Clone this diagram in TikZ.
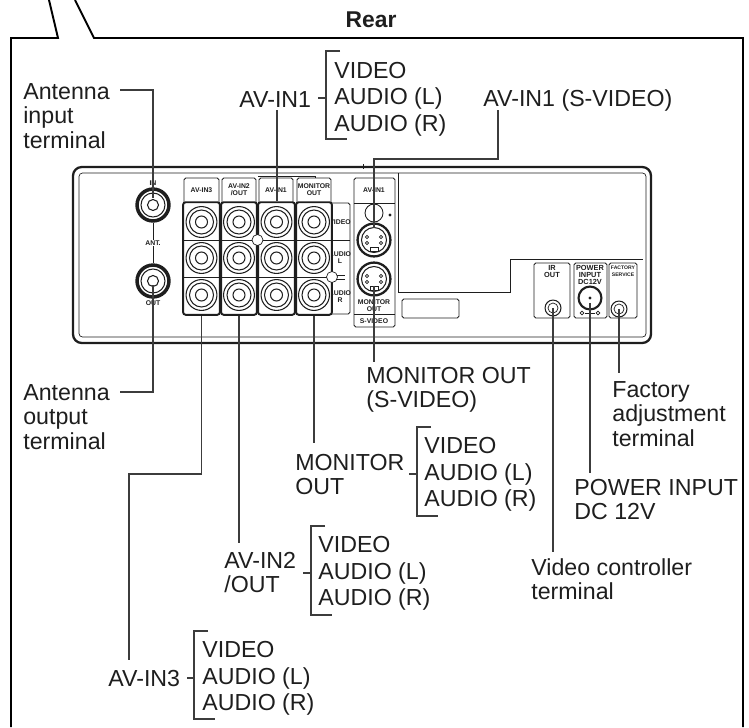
\documentclass[tikz,border=0pt]{standalone}
\usepackage{fontspec}
\setmainfont{Liberation Sans}
\usetikzlibrary{positioning}
\definecolor{inkcol}{RGB}{30,30,30}
\definecolor{leadcol}{RGB}{60,60,60}

\begin{document}
\begin{tikzpicture}[
    x=0.02cm, y=-0.02cm,
    every node/.style={inner sep=0pt, text=inkcol},
    lbl/.style={font=\fontsize{13.2}{13.8}\selectfont, align=left, anchor=west},
    lst/.style={font=\fontsize{13.2}{15}\selectfont, align=left, anchor=west},
    tiny/.style={font=\fontsize{3.9}{4}\selectfont\bfseries, align=center},
    lead/.style={draw=leadcol, line width=1.1pt},
    frame/.style={draw=black, line width=1.1pt, line join=miter},
    plate/.style={draw=inkcol, line width=0.5pt, rounded corners=1pt},
    block/.style={draw=inkcol, line width=1.1pt, rounded corners=1.5pt, fill=white, minimum height=113*0.567pt},
    thin/.style={draw=inkcol, line width=0.4pt},
    ring/.style={draw=inkcol, line width=0.6pt},
]
\useasboundingbox (0,0) rectangle (749,727);

% frame with tail
\draw[frame] (49,0) -- (58,38) -- (11,38) -- (11,727);
\draw[frame] (75,0) -- (94,38) -- (743,38) -- (743,727);
\node[font=\fontsize{13}{15}\selectfont\bfseries] (rear) at (371,20) {Rear};

% panel
\draw[draw=inkcol, line width=1.3pt, rounded corners=5pt] (73,167) rectangle (651,343);
\draw[thin, rounded corners=2pt] (79,173) rectangle (646,337);
\draw[thin] (398,173) -- (398,292) -- (510,292) -- (510,259) -- (643,259);
\draw[thin] (363,164) -- (363,169);
\draw[plate] (402,299) rectangle (459,318);

% antenna
\foreach \nm/\yy in {antin/205, antout/281} {
  \node[circle, draw=inkcol, line width=2pt, minimum size=32*0.567pt] (\nm) at (153,\yy) {};
  \draw[ring] (\nm) circle (12);
  \draw[ring] (\nm) circle (5.5);
}
\node[tiny] (inlbl) at (153,183) {IN};
\node[tiny] (antlbl) at (153,243) {ANT.};
\node[tiny] (outlbl) at (153,303) {OUT};
\draw[thin] (antin) -- (antlbl);
\draw[thin] (antout) -- (antlbl);

% label plates over the jacks
\foreach \nm/\xl/\xr/\txt in {p3/184/219/AV-IN3, p2/222/256/{AV-IN2\\/OUT}, p1/259/293/AV-IN1, pm/297/331/{MONITOR\\OUT}} {
  \draw[plate] (\xl,202) -- (\xl,178) -- (\xr,178) -- (\xr,202);
  \node[tiny] (\nm) at ({(\xl+\xr)/2},190) {\txt};
}
\draw[thin] (258,176) -- (315,176) -- (315,178);

% side plate
\draw[plate] (330,203) -- (350,203) -- (350,314) -- (330,314);
\draw[thin] (330,240) -- (350,240);
\node[tiny] (sv) at (340,222) {VIDEO};
\node[tiny] (sl) at (340,258) {AUDIO\\L};
\node[tiny] (sr) at (340,297) {AUDIO\\R};

% jack blocks
\foreach \nm/\xl/\xc/\bw in {b3/183/201.5/37, b2/221/239/36, b1/258/276.5/37, bm/296/314/36} {
  \node[block, minimum width=\bw*0.567pt] (\nm) at (\xc,258.5) {};
  \draw[thin] (\xl,240) -- (\xl+\bw,240);
  \draw[thin] (\xl,277) -- (\xl+\bw,277);
  \foreach \yy/\ii in {222/a, 258/b, 295/c} {
    \node[circle, fill=white, ring, minimum size=31*0.567pt] (\nm\ii) at (\xc,\yy) {};
    \draw[ring] (\nm\ii) circle (12);
    \draw[ring] (\nm\ii) circle (6);
  }
}
\foreach \xx/\yy in {257.5/240, 332/277} {
  \draw[thin, fill=white] (\xx,\yy) circle (5.5);
}
\draw[thin] (337,275) -- (345,275);
\draw[thin] (337,279) -- (345,279);

% s-video plate
\draw[plate] (354,327) -- (354,178) -- (395,178) -- (395,327) -- cycle;
\draw[thin] (354,203) -- (395,203);
\draw[thin] (354,314) -- (395,314);
\node[tiny] (sa) at (374,190) {AV-IN1};
\node[tiny] (sb) at (374,321) {S-VIDEO};
\node[tiny] (sc) at (374,306) {MONITOR\\OUT};
\draw[thin, line width=0.5pt] (374,213) circle (9);
\fill[inkcol] (390,215) circle (1.6);
\foreach \nm/\yy in {sv1/240, sv2/279} {
  \node[circle, fill=white, draw=inkcol, line width=1.3pt, minimum size=33*0.567pt] (\nm) at (374,\yy) {};
  \draw[ring] (\nm) circle (12.5);
  \foreach \dx/\dy in {-7/-3, 7/-3, -7/3, 7/3} {
    \draw[thin] (374+\dx,\yy+\dy) circle (1.6);
  }
  \draw[thin] (370,\yy+7) rectangle (378,\yy+11);
}

% right hand plates
\draw[plate] (534,263) rectangle (570,318);
\draw[plate] (574,263) rectangle (607,318);
\draw[plate] (609,263) rectangle (637,318);
\node[tiny, font=\fontsize{4.2}{4}\selectfont\bfseries] (irl) at (552,271.5) {IR\\OUT};
\node[tiny, font=\fontsize{4.2}{4}\selectfont\bfseries] (pwl) at (590,275) {POWER\\INPUT\\DC12V};
\node[tiny, font=\fontsize{2.9}{4}\selectfont\bfseries] (fcl) at (623,271.5) {FACTORY\\SERVICE};
\node[circle, ring, minimum size=16*0.567pt] (ir) at (553,308) {};
\draw[thin] (ir) circle (5);
\node[circle, draw=inkcol, line width=1.2pt, minimum size=23*0.567pt] (pw) at (590,298) {};
\fill[inkcol] (pw) circle (1.6);
\draw[thin] (582,313) circle (1.8);
\draw[thin] (598,313) circle (1.8);
\draw[thin] (585,313) -- (595,313);
\node[circle, ring, minimum size=16*0.567pt] (fc) at (619,309) {};
\draw[thin] (fc) circle (5);

% top labels
\node[lbl] (antinl) at (23,116) {Antenna\\input\\terminal};
\node[lbl] (avone) at (239,100) {AV-IN1};
\node[lst] (avonelist) at (334,99) {VIDEO\\AUDIO (L)\\AUDIO (R)};
\node[lbl] (avones) at (483,100) {AV-IN1 (S-VIDEO)};

% bottom labels
\node[lbl] (antoutl) at (23,417) {Antenna\\output\\terminal};
\node[lbl] (monsl) at (366,390) {MONITOR OUT\\(S-VIDEO)};
\node[lbl] (facl) at (612,414) {Factory\\adjustment\\terminal};
\node[lbl] (monl) at (295,474.5) {MONITOR\\OUT};
\node[lst] (monlist) at (424,474.5) {VIDEO\\AUDIO (L)\\AUDIO (R)};
\node[lbl] (pwrl) at (574,499.5) {POWER INPUT\\DC 12V};
\node[lbl] (vidl) at (531,579) {Video controller\\terminal};
\node[lbl] (twol) at (224,572.5) {AV-IN2\\/OUT};
\node[lst] (twolist) at (318,573.5) {VIDEO\\AUDIO (L)\\AUDIO (R)};
\node[lbl] (thrl) at (108,678) {AV-IN3};
\node[lst] (thrlist) at (202,678.5) {VIDEO\\AUDIO (L)\\AUDIO (R)};

% brackets
\foreach \xb/\yt/\yb/\ym/\xs in {326/51/139/98/318, 417/427/516/474/409, 311/526/615/573/303, 194/631/719/678/187} {
  \draw[lead] (\xb+14,\yt) -- (\xb,\yt) -- (\xb,\yb) -- (\xb+21,\yb);
  \draw[lead] (\xs,\ym) -- (\xb,\ym);
}

% free ends of the leaders
\coordinate (antinend) at (120,90);
\coordinate (antoutend) at (120,392);
\coordinate (avoneend) at (277,110);
\coordinate (avonesend) at (498,110);
\coordinate (monsend) at (374,362);
\coordinate (facend) at (619,373);
\coordinate (pwrend) at (590,473);
\coordinate (vidend) at (553,552);
\coordinate (monend) at (314,443);
\coordinate (twoend) at (239,543);
\coordinate (thrend) at (129,660);

% leaders
\draw[lead] (antinend) -| ([yshift=7*0.567pt]antin.center);
\draw[lead] (antoutend) -| ([yshift=-4*0.567pt]antout.center);
\draw[lead] (avoneend) -- (avoneend |- b1.north);
\draw[lead] (avonesend) |- (374,159) -- ([yshift=12*0.567pt]sv1.center);
\draw[lead] ([yshift=-7*0.567pt]sv2.center) -- (monsend);
\draw[lead] (fc.center) -- (facend);
\draw[lead] ([yshift=-5*0.567pt]pw.center) -- (pwrend);
\draw[lead] (ir.center) -- (vidend);
\draw[lead] (bm.south) -- (monend);
\draw[lead] (b2.south) -- (twoend);
\draw[lead] (b3.south) |- (129,474) -- (thrend);
\end{tikzpicture}
\end{document}
